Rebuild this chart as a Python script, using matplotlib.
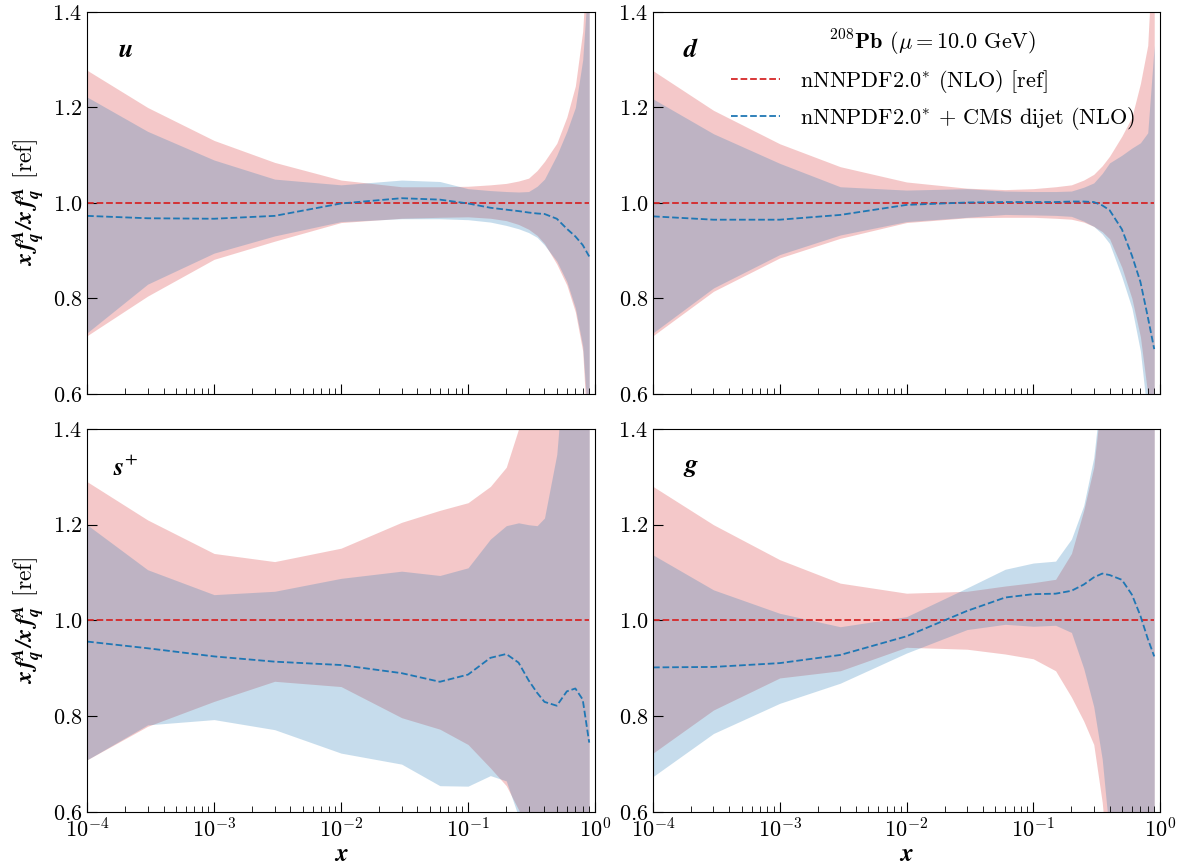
import matplotlib
matplotlib.use('Agg')
import matplotlib.pyplot as plt

plt.rcParams['font.family'] = 'serif'
plt.rcParams['font.serif'] = ['cmr10']
plt.rcParams['mathtext.fontset'] = 'cm'
plt.rcParams['axes.formatter.use_mathtext'] = True
plt.rcParams['axes.unicode_minus'] = False
# bold italic symbols go through the 'custom' math font set
plt.rcParams['mathtext.bf'] = 'STIXGeneral:italic:bold'
plt.rcParams['mathtext.rm'] = 'STIXGeneral'

x = [1e-4, 3e-4, 1e-3, 3e-3, 1e-2, 3e-2, 0.06, 0.1, 0.15, 0.2,
     0.25, 0.3, 0.35, 0.4, 0.5, 0.6, 0.7, 0.8, 0.9]

# u
u_ref_hi = [1.278, 1.20, 1.131, 1.085, 1.048, 1.034, 1.034, 1.035, 1.038, 1.041,
            1.046, 1.052, 1.068, 1.087, 1.125, 1.18, 1.245, 1.36, 1.60]
u_ref_lo = [0.722, 0.805, 0.882, 0.920, 0.959, 0.968, 0.970, 0.971, 0.968, 0.963,
            0.955, 0.945, 0.932, 0.915, 0.872, 0.828, 0.772, 0.69, 0.45]
u_cms_hi = [1.222, 1.15, 1.09, 1.05, 1.038, 1.048, 1.045, 1.03, 1.026, 1.024,
            1.023, 1.024, 1.035, 1.05, 1.10, 1.15, 1.20, 1.30, 1.50]
u_cms_lo = [0.728, 0.83, 0.895, 0.931, 0.961, 0.967, 0.967, 0.965, 0.96, 0.953,
            0.946, 0.938, 0.928, 0.912, 0.878, 0.835, 0.78, 0.70, 0.50]
u_cms = [0.973, 0.968, 0.967, 0.973, 0.999, 1.010, 1.007, 0.999, 0.99, 0.986,
         0.983, 0.98, 0.978, 0.977, 0.967, 0.946, 0.93, 0.912, 0.888]

# d
d_ref_hi = [1.277, 1.194, 1.124, 1.076, 1.044, 1.031, 1.028, 1.03, 1.034, 1.038,
            1.048, 1.06, 1.078, 1.098, 1.14, 1.18, 1.25, 1.33, 1.60]
d_ref_lo = [0.722, 0.815, 0.885, 0.926, 0.959, 0.969, 0.970, 0.970, 0.968, 0.966,
            0.960, 0.951, 0.94, 0.925, 0.865, 0.80, 0.72, 0.60, 0.40]
d_cms_hi = [1.218, 1.145, 1.083, 1.034, 1.027, 1.030, 1.025, 1.024, 1.024, 1.025,
            1.033, 1.042, 1.062, 1.084, 1.10, 1.115, 1.126, 1.147, 1.33]
d_cms_lo = [0.728, 0.822, 0.892, 0.933, 0.961, 0.970, 0.976, 0.975, 0.974, 0.972,
            0.962, 0.951, 0.935, 0.915, 0.845, 0.78, 0.69, 0.55, 0.40]
d_cms = [0.972, 0.965, 0.965, 0.975, 0.996, 1.001, 1.002, 1.002, 1.002, 1.003,
         1.003, 1.002, 0.995, 0.985, 0.945, 0.89, 0.835, 0.762, 0.694]

# s+
s_ref_hi = [1.29, 1.21, 1.14, 1.123, 1.151, 1.205, 1.23, 1.246, 1.28, 1.32,
            1.40, 1.50, 1.60, 1.60, 1.60, 1.60, 1.60, 1.60, 1.60]
s_ref_lo = [0.709, 0.779, 0.831, 0.873, 0.862, 0.797, 0.773, 0.741, 0.692, 0.655,
            0.605, 0.55, 0.45, 0.40, 0.40, 0.40, 0.40, 0.40, 0.40]
s_cms_hi = [1.20, 1.106, 1.054, 1.061, 1.088, 1.103, 1.094, 1.11, 1.17, 1.198,
            1.204, 1.20, 1.198, 1.214, 1.347, 1.60, 1.60, 1.60, 1.60]
s_cms_lo = [0.709, 0.782, 0.793, 0.772, 0.723, 0.70, 0.655, 0.654, 0.676, 0.665,
            0.59, 0.50, 0.40, 0.40, 0.40, 0.40, 0.40, 0.40, 0.40]
s_cms = [0.956, 0.942, 0.925, 0.914, 0.907, 0.89, 0.872, 0.887, 0.922, 0.93,
         0.912, 0.875, 0.849, 0.83, 0.822, 0.852, 0.858, 0.835, 0.745]

# g
g_ref_hi = [1.28, 1.20, 1.127, 1.078, 1.057, 1.061, 1.072, 1.079, 1.086, 1.14,
            1.23, 1.32, 1.48, 1.60, 1.60, 1.60, 1.60, 1.60, 1.60]
g_ref_lo = [0.723, 0.813, 0.88, 0.895, 0.944, 0.94, 0.93, 0.92, 0.895, 0.84,
            0.79, 0.741, 0.62, 0.45, 0.40, 0.40, 0.40, 0.40, 0.40]
g_cms_hi = [1.137, 1.064, 1.015, 0.987, 1.008, 1.068, 1.107, 1.12, 1.124, 1.17,
            1.24, 1.34, 1.50, 1.60, 1.60, 1.60, 1.60, 1.60, 1.60]
g_cms_lo = [0.674, 0.764, 0.827, 0.869, 0.932, 0.981, 0.992, 0.988, 0.99, 0.975,
            0.90, 0.82, 0.71, 0.55, 0.40, 0.40, 0.40, 0.40, 0.40]
g_cms = [0.902, 0.903, 0.911, 0.928, 0.967, 1.02, 1.048, 1.055, 1.056, 1.062,
         1.075, 1.09, 1.098, 1.095, 1.085, 1.054, 1.01, 0.962, 0.925]

panels = [
    (r'$\mathbf{u}$', u_ref_hi, u_ref_lo, u_cms_hi, u_cms_lo, u_cms),
    (r'$\mathbf{d}$', d_ref_hi, d_ref_lo, d_cms_hi, d_cms_lo, d_cms),
    (r'$\mathbf{s}^{+}$', s_ref_hi, s_ref_lo, s_cms_hi, s_cms_lo, s_cms),
    (r'$\mathbf{g}$', g_ref_hi, g_ref_lo, g_cms_hi, g_cms_lo, g_cms),
]

red = '#d62728'
blue = '#1f77b4'

fig = plt.figure(figsize=(11.86, 8.68), dpi=100)
boxes = [[0.0734, 0.5461, 0.4283, 0.4401],
         [0.5506, 0.5461, 0.4275, 0.4401],
         [0.0734, 0.0645, 0.4283, 0.4413],
         [0.5506, 0.0645, 0.4275, 0.4413]]

for i, (name, rhi, rlo, chi, clo, cc) in enumerate(panels):
    ax = fig.add_axes(boxes[i])
    ax.fill_between(x, rlo, rhi, color=red, alpha=0.25, lw=0)
    ax.fill_between(x, clo, chi, color=blue, alpha=0.25, lw=0)
    ax.plot(x, [1.0] * len(x), color=red, ls='--', lw=1.3,
            label=r'nNNPDF2.0$^{*}$ (NLO) [ref]')
    ax.plot(x, cc, color=blue, ls='--', lw=1.3,
            label=r'nNNPDF2.0$^{*}$ + CMS dijet (NLO)')
    ax.set_xscale('log')
    ax.set_xlim(1e-4, 1)
    ax.set_ylim(0.6, 1.4)
    ax.set_yticks([0.6, 0.8, 1.0, 1.2, 1.4])
    ax.tick_params(which='both', direction='in', labelsize=16)
    ax.tick_params(which='major', length=7)
    ax.tick_params(which='minor', length=4)
    ax.text(0.075, 0.9, name, transform=ax.transAxes, fontsize=19,
            ha='center', va='center', math_fontfamily='custom')
    if i < 2:
        ax.tick_params(labelbottom=False)
    else:
        ax.set_xlabel(r'$\mathbf{x}$', fontsize=18, labelpad=2,
                      math_fontfamily='custom')
    if i % 2 == 0:
        ax.set_ylabel(r'$\mathbf{x\,f_q^A/x\,f_q^A}$ [ref]', fontsize=17,
                      math_fontfamily='custom')
    if i == 1:
        ax.legend(loc='upper right', frameon=False, fontsize=16,
                  title=r'$^{208}\mathbf{Pb}$ ($\mu = 10.0$ GeV)',
                  title_fontsize=16, handlelength=2.2, handletextpad=0.9,
                  labelspacing=0.45, bbox_to_anchor=(0.99, 1.01))

fig.savefig('out.png', dpi=100)
